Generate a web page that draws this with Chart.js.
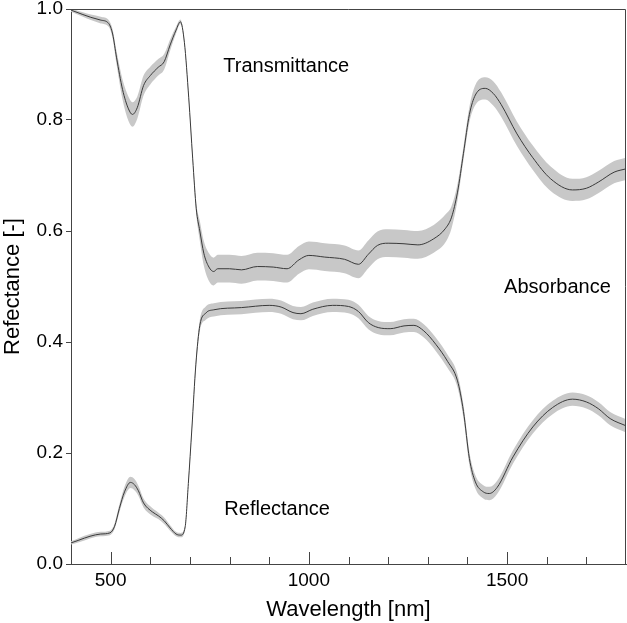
<!DOCTYPE html>
<html>
<head>
<meta charset="utf-8">
<script src="https://cdn.jsdelivr.net/npm/chart.js@4.4.1/dist/chart.umd.min.js"></script>
<style>
  html, body { margin: 0; padding: 0; background: #fff; }
  #c { display: block; }
</style>
</head>
<body>
<canvas id="c" width="627" height="623"></canvas>
<script>
// upper curve (1 - transmittance), mean and half band width
var tWl  = [400, 430, 450, 475, 495, 505, 515, 530, 545, 555, 567, 583, 600, 620, 635, 650, 665, 676, 686, 697, 707, 716, 725, 735, 748, 760, 770, 800, 830, 870, 910, 945, 975, 1000, 1040, 1090, 1125, 1150, 1173, 1200, 1240, 1275, 1315, 1345, 1360, 1375, 1390, 1405, 1420, 1445, 1465, 1485, 1525, 1565, 1610, 1665, 1700, 1730, 1770, 1800];
var tVal = [0.998, 0.99, 0.985, 0.98, 0.974, 0.955, 0.912, 0.855, 0.82, 0.81, 0.822, 0.862, 0.88, 0.895, 0.905, 0.935, 0.962, 0.977, 0.94, 0.84, 0.73, 0.64, 0.6, 0.56, 0.535, 0.527, 0.532, 0.532, 0.53, 0.536, 0.535, 0.532, 0.548, 0.556, 0.553, 0.549, 0.54, 0.558, 0.574, 0.578, 0.577, 0.575, 0.586, 0.605, 0.625, 0.67, 0.74, 0.81, 0.845, 0.857, 0.848, 0.828, 0.775, 0.732, 0.694, 0.674, 0.677, 0.688, 0.706, 0.712];
var tSd  = [0.003, 0.004, 0.005, 0.006, 0.006, 0.008, 0.012, 0.018, 0.022, 0.022, 0.02, 0.018, 0.016, 0.015, 0.014, 0.01, 0.006, 0.004, 0.004, 0.005, 0.006, 0.01, 0.018, 0.022, 0.025, 0.025, 0.025, 0.025, 0.025, 0.025, 0.025, 0.025, 0.025, 0.025, 0.025, 0.025, 0.025, 0.025, 0.025, 0.025, 0.025, 0.025, 0.025, 0.025, 0.02, 0.015, 0.012, 0.014, 0.018, 0.02, 0.022, 0.022, 0.022, 0.022, 0.022, 0.02, 0.02, 0.02, 0.02, 0.02];

// lower curve (reflectance)
var rWl  = [400, 420, 448, 475, 498, 510, 522, 535, 550, 560, 570, 583, 605, 620, 635, 650, 665, 677, 688, 696, 705, 715, 725, 740, 760, 830, 900, 930, 960, 980, 1010, 1060, 1100, 1125, 1150, 1175, 1205, 1240, 1265, 1290, 1320, 1350, 1375, 1390, 1405, 1420, 1440, 1455, 1475, 1515, 1565, 1615, 1665, 1700, 1730, 1760, 1800];
var rVal = [0.038, 0.043, 0.05, 0.054, 0.056, 0.068, 0.1, 0.13, 0.147, 0.143, 0.132, 0.11, 0.094, 0.087, 0.078, 0.065, 0.054, 0.052, 0.067, 0.145, 0.245, 0.36, 0.43, 0.452, 0.458, 0.462, 0.466, 0.463, 0.453, 0.451, 0.459, 0.466, 0.464, 0.455, 0.435, 0.426, 0.424, 0.429, 0.43, 0.42, 0.396, 0.365, 0.33, 0.275, 0.19, 0.148, 0.13, 0.127, 0.138, 0.193, 0.247, 0.282, 0.297, 0.292, 0.28, 0.262, 0.249];
var rSd  = [0.003, 0.004, 0.004, 0.004, 0.004, 0.005, 0.007, 0.009, 0.01, 0.01, 0.009, 0.008, 0.007, 0.006, 0.006, 0.005, 0.004, 0.004, 0.004, 0.005, 0.006, 0.008, 0.01, 0.012, 0.012, 0.012, 0.012, 0.012, 0.012, 0.012, 0.012, 0.012, 0.012, 0.012, 0.012, 0.012, 0.012, 0.012, 0.012, 0.012, 0.012, 0.012, 0.012, 0.012, 0.012, 0.012, 0.012, 0.012, 0.012, 0.012, 0.012, 0.012, 0.012, 0.012, 0.012, 0.012, 0.012];

var xTicks = [500, 1000, 1500];
var yTicks = [0, 0.2, 0.4, 0.6, 0.8, 1.0];

// text labels inside the plot, in data units
var notes = [
    ["Transmittance", 943, 0.897],
    ["Absorbance", 1627, 0.498],
    ["Reflectance", 920, 0.099]
];

var FONT = "'Liberation Sans', Arial, sans-serif";
var BAND = "#c8c8c8";
var LINE = "#3a3a3a";

function pts(wl, val, sd, sign) {
    return wl.map(function(w, i) { return { x: w, y: val[i] + sign * sd[i] }; });
}

function band(data, fill) {
    return {
        data: data,
        borderWidth: 0,
        borderColor: "rgba(0,0,0,0)",
        backgroundColor: BAND,
        pointRadius: 0,
        fill: fill,
        cubicInterpolationMode: "monotone",
        order: 2
    };
}

function line(data) {
    return {
        data: data,
        borderWidth: 1,
        borderColor: LINE,
        pointRadius: 0,
        fill: false,
        cubicInterpolationMode: "monotone",
        order: 0
    };
}

var frame = {
    id: "frame",
    afterDraw: function(chart) {
        var ctx = chart.ctx, a = chart.chartArea, xs = chart.scales.x;
        ctx.save();
        ctx.strokeStyle = "#444";
        ctx.lineWidth = 1;
        ctx.beginPath();
        ctx.moveTo(a.left, a.top + 0.5);
        ctx.lineTo(a.right - 0.5, a.top + 0.5);
        ctx.lineTo(a.right - 0.5, a.bottom);
        ctx.stroke();
        // x ticks inside, every 100 nm
        ctx.beginPath();
        for (var w = 500; w < 1800; w += 100) {
            var px = Math.round(xs.getPixelForValue(w)) + 0.5;
            var len = (w % 500 === 0) ? 12 : 7;
            ctx.moveTo(px, a.bottom);
            ctx.lineTo(px, a.bottom - len);
        }
        ctx.stroke();
        // notes
        ctx.fillStyle = "#000";
        ctx.font = "20px " + FONT;
        ctx.textAlign = "center";
        ctx.textBaseline = "middle";
        notes.forEach(function(n) {
            ctx.fillText(n[0], xs.getPixelForValue(n[1]), chart.scales.y.getPixelForValue(n[2]));
        });
        ctx.restore();
    }
};

new Chart(document.getElementById("c"), {
    type: "line",
    data: {
        datasets: [
            band(pts(tWl, tVal, tSd, 1), false),
            band(pts(tWl, tVal, tSd, -1), "-1"),
            band(pts(rWl, rVal, rSd, 1), false),
            band(pts(rWl, rVal, rSd, -1), "-1"),
            line(pts(tWl, tVal, tSd, 0)),
            line(pts(rWl, rVal, rSd, 0))
        ]
    },
    options: {
        responsive: false,
        animation: false,
        devicePixelRatio: 1,
        layout: { padding: { top: 9, right: 1, left: 0, bottom: 0 } },
        plugins: {
            legend: { display: false },
            tooltip: { enabled: false },
            filler: { drawTime: "beforeDatasetsDraw" }
        },
        scales: {
            x: {
                type: "linear",
                min: 400,
                max: 1800,
                afterBuildTicks: function(s) { s.ticks = xTicks.map(function(v) { return { value: v }; }); },
                afterFit: function(s) { s.height = 59; s.paddingLeft = 0; s.paddingRight = 0; },
                grid: { display: false, drawTicks: false },
                border: { display: true, color: "#444", width: 1 },
                ticks: {
                    color: "#000",
                    font: { family: FONT, size: 19 },
                    padding: 5,
                    maxRotation: 0,
                    callback: function(v) { return String(v); }
                },
                title: { display: true, text: "Wavelength [nm]", color: "#000", font: { family: FONT, size: 22 }, padding: { top: 2, bottom: 0 } }
            },
            y: {
                min: 0,
                max: 1,
                afterBuildTicks: function(s) { s.ticks = yTicks.map(function(v) { return { value: v }; }); },
                afterFit: function(s) { s.width = 71; s.paddingTop = 0; s.paddingBottom = 0; },
                grid: { display: true, drawOnChartArea: false, tickLength: 5, color: "#444" },
                border: { display: true, color: "#444", width: 1 },
                ticks: {
                    color: "#000",
                    font: { family: FONT, size: 19 },
                    padding: 3,
                    callback: function(v) { return v.toFixed(1); }
                },
                title: { display: true, text: "Refectance [-]", color: "#000", font: { family: FONT, size: 22 }, padding: { top: 0, bottom: 2 } }
            }
        }
    },
    plugins: [frame]
});
</script>
</body>
</html>
